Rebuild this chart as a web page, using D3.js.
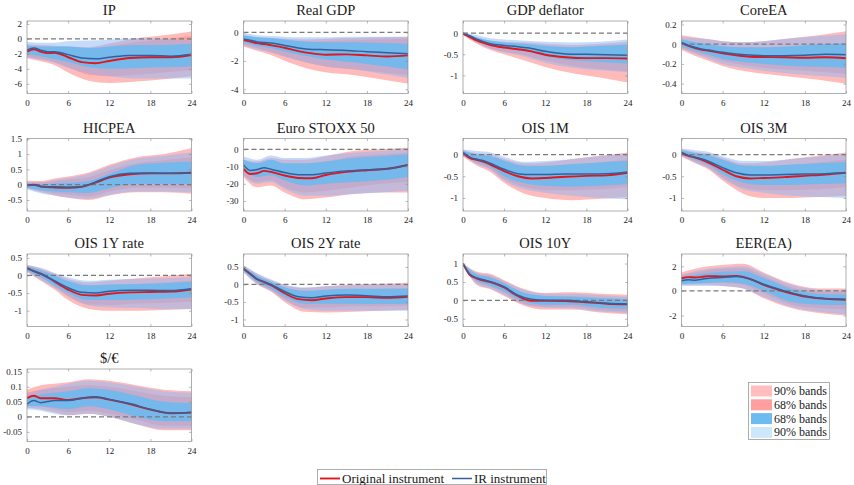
<!DOCTYPE html>
<html>
<head>
<meta charset="utf-8">
<script src="https://cdn.jsdelivr.net/npm/d3@7/dist/d3.min.js"></script>
<style>
  html, body { margin: 0; padding: 0; background: #fff; }
  svg { display: block; }
  text { font-family: "Liberation Serif", "Times New Roman", serif; fill: #1a1a1a; }
</style>
</head>
<body>
<svg id="chart" width="854" height="485"></svg>
<script>
// Impulse responses to a monetary policy shock, two instruments, 13 variables
const panelTitles = ["IP", "Real GDP", "GDP deflator", "CoreEA", "HICPEA", "Euro STOXX 50",
  "OIS 1M", "OIS 3M", "OIS 1Y rate", "OIS 2Y rate", "OIS 10Y", "EER(EA)", "$/€"];

const yDomains = [[-7.3, 2.4], [-4.3, 0.8], [-1.43, 0.29], [-0.5, 0.235], [-0.86, 1.51], [-35.8, 6.3],
  [-1.3, 0.37], [-1.3, 0.37], [-1.45, 0.61], [-1.2, 0.87], [-0.71, 1.26], [-2.9, 3.0], [-0.082, 0.159]];

const yTickValues = [[-6, -4, -2, 0, 2], [-4, -2, 0], [-1, -0.5, 0], [-0.4, -0.2, 0, 0.2],
  [-0.5, 0, 0.5, 1, 1.5], [-30, -20, -10, 0], [-1, -0.5, 0], [-1, -0.5, 0], [-1, -0.5, 0, 0.5],
  [-1, -0.5, 0, 0.5], [-0.5, 0, 0.5, 1], [-2, 0, 2], [-0.05, 0, 0.05, 0.1, 0.15]];

const xTickValues = [0, 6, 12, 18, 24];

// horizons (months) at which the responses and the bands are recorded
const lineHorizons = [0, 1, 2, 3, 4, 6, 8, 10, 12, 15, 18, 21, 24];
const bandHorizons = [0, 2, 4, 6, 9, 12, 16, 20, 24];

// point responses, original instrument
const originalIRF = [
  [-1.7, -1.4, -1.7, -1.9, -1.85, -2.45, -3.1, -3.25, -2.95, -2.55, -2.45, -2.45, -2.15],
  [-0.55, -0.65, -0.76, -0.82, -0.9, -1.08, -1.32, -1.48, -1.57, -1.55, -1.62, -1.7, -1.62],
  [-0.02, -0.09, -0.17, -0.23, -0.28, -0.34, -0.38, -0.43, -0.51, -0.57, -0.59, -0.59, -0.6],
  [0.01, -0.017, -0.04, -0.057, -0.067, -0.093, -0.113, -0.127, -0.13, -0.133, -0.137, -0.133, -0.143],
  [-0.02, 0, -0.06, -0.08, -0.09, -0.1, -0.07, 0.07, 0.23, 0.34, 0.37, 0.37, 0.39],
  [-11.3, -14.3, -13.9, -12.5, -13.1, -15.2, -16.6, -16.8, -14.9, -13.1, -12.1, -11.3, -9.1],
  [0.03, -0.08, -0.12, -0.16, -0.23, -0.38, -0.5, -0.55, -0.54, -0.51, -0.49, -0.48, -0.42],
  [0.04, -0.03, -0.07, -0.12, -0.19, -0.35, -0.5, -0.55, -0.54, -0.52, -0.49, -0.46, -0.42],
  [0.22, 0.12, 0.05, -0.05, -0.17, -0.4, -0.55, -0.57, -0.52, -0.48, -0.47, -0.46, -0.4],
  [0.45, 0.3, 0.15, 0.07, -0.02, -0.25, -0.42, -0.45, -0.4, -0.36, -0.36, -0.38, -0.35],
  [1.0, 0.69, 0.6, 0.54, 0.5, 0.35, 0.12, -0.01, -0.01, -0.02, -0.05, -0.09, -0.11],
  [1.03, 1.12, 1.09, 1.14, 1.2, 1.17, 1.22, 0.98, 0.49, -0.05, -0.46, -0.65, -0.73],
  [0.062, 0.07, 0.062, 0.062, 0.062, 0.056, 0.062, 0.065, 0.057, 0.042, 0.024, 0.012, 0.014]
];

// point responses, IR instrument
const irIRF = [
  [-1.5, -1.2, -1.5, -1.7, -1.7, -2.1, -2.55, -2.65, -2.45, -2.2, -2.2, -2.3, -2.05],
  [-0.46, -0.55, -0.67, -0.72, -0.74, -0.92, -1.1, -1.2, -1.22, -1.27, -1.36, -1.43, -1.5],
  [0, -0.06, -0.14, -0.2, -0.25, -0.29, -0.32, -0.36, -0.43, -0.49, -0.5, -0.51, -0.52],
  [0.017, -0.013, -0.033, -0.05, -0.06, -0.083, -0.1, -0.11, -0.117, -0.117, -0.113, -0.103, -0.107],
  [-0.03, 0, -0.06, -0.07, -0.07, -0.08, -0.06, 0.09, 0.26, 0.37, 0.38, 0.37, 0.39],
  [-9.1, -12.3, -11.7, -10.7, -11.5, -13.5, -14.7, -14.7, -13.7, -12.5, -11.9, -11.3, -9.1],
  [0.05, -0.06, -0.11, -0.14, -0.2, -0.34, -0.44, -0.46, -0.46, -0.45, -0.45, -0.44, -0.4],
  [0.05, -0.02, -0.06, -0.1, -0.16, -0.3, -0.42, -0.47, -0.47, -0.46, -0.45, -0.44, -0.42],
  [0.2, 0.12, 0.05, -0.05, -0.15, -0.35, -0.48, -0.5, -0.45, -0.42, -0.42, -0.43, -0.38],
  [0.45, 0.3, 0.15, 0.08, 0.0, -0.2, -0.35, -0.38, -0.33, -0.3, -0.32, -0.35, -0.33],
  [1.0, 0.71, 0.61, 0.56, 0.51, 0.37, 0.14, 0.03, 0.0, 0.0, -0.04, -0.08, -0.1],
  [0.82, 0.9, 0.87, 0.95, 1.03, 1.09, 1.17, 0.95, 0.54, 0.0, -0.41, -0.63, -0.68],
  [0.042, 0.054, 0.047, 0.051, 0.054, 0.054, 0.062, 0.067, 0.058, 0.044, 0.025, 0.012, 0.015]
];

// original instrument, 90% bands
const orig90Lo = [
  [-2.6, -3.0, -3.5, -4.5, -5.6, -5.9, -5.7, -5.4, -5.0],
  [-1.0, -1.3, -1.6, -2.0, -2.5, -2.8, -3.0, -3.3, -3.6],
  [-0.04, -0.25, -0.4, -0.5, -0.65, -0.8, -0.95, -1.05, -1.17],
  [-0.06, -0.12, -0.17, -0.22, -0.27, -0.3, -0.33, -0.36, -0.4],
  [-0.12, -0.25, -0.35, -0.43, -0.5, -0.35, -0.25, -0.25, -0.3],
  [-16, -22, -21, -25, -29, -28, -26, -25, -25],
  [-0.05, -0.25, -0.4, -0.65, -0.9, -1.0, -1.05, -1.02, -0.98],
  [-0.05, -0.2, -0.35, -0.6, -0.9, -1.0, -1.0, -0.98, -0.95],
  [0.1, -0.15, -0.4, -0.7, -0.95, -1.0, -1.0, -0.98, -0.95],
  [0.35, 0.0, -0.2, -0.5, -0.78, -0.8, -0.78, -0.75, -0.72],
  [1.0, 0.42, 0.3, 0.12, -0.15, -0.25, -0.25, -0.33, -0.38],
  [0.5, 0.5, 0.5, 0.4, 0.2, -0.6, -1.4, -1.8, -2.0],
  [0.03, 0.025, 0.015, 0.005, 0.01, 0.0, -0.025, -0.045, -0.045]
];
const orig90Hi = [
  [-0.7, -0.8, -0.9, -1.0, -1.1, -0.6, 0.1, 0.5, 1.0],
  [-0.2, -0.35, -0.4, -0.45, -0.5, -0.45, -0.4, -0.35, -0.3],
  [0.02, -0.1, -0.17, -0.2, -0.22, -0.25, -0.28, -0.25, -0.2],
  [0.09, 0.07, 0.05, 0.03, 0.02, 0.03, 0.06, 0.09, 0.13],
  [0.13, 0.12, 0.2, 0.27, 0.4, 0.65, 0.9, 1.0, 1.2],
  [-6, -7, -5, -6, -6, -4, -1, 0, 1],
  [0.1, 0.03, 0.0, -0.1, -0.2, -0.18, -0.1, -0.03, 0.05],
  [0.12, 0.06, 0.02, -0.08, -0.2, -0.18, -0.1, -0.03, 0.05],
  [0.3, 0.2, 0.05, -0.1, -0.2, -0.15, -0.08, -0.02, 0.05],
  [0.55, 0.3, 0.12, -0.02, -0.1, -0.05, 0.0, 0.02, 0.05],
  [1.0, 0.78, 0.72, 0.55, 0.3, 0.2, 0.22, 0.18, 0.15],
  [1.5, 1.8, 2.0, 2.1, 2.2, 1.5, 0.6, 0.2, 0.2],
  [0.09, 0.105, 0.11, 0.115, 0.125, 0.12, 0.105, 0.09, 0.085]
];

// original instrument, 68% bands
const orig68Lo = [
  [-2.3, -2.7, -3.1, -3.8, -4.8, -5.0, -4.8, -4.5, -4.2],
  [-0.85, -1.1, -1.4, -1.7, -2.1, -2.4, -2.6, -2.8, -3.0],
  [-0.03, -0.22, -0.36, -0.44, -0.52, -0.65, -0.78, -0.85, -0.9],
  [-0.04, -0.09, -0.13, -0.17, -0.21, -0.24, -0.26, -0.28, -0.3],
  [-0.1, -0.2, -0.28, -0.33, -0.38, -0.22, -0.1, -0.1, -0.12],
  [-15, -19, -18, -22, -25, -24, -22, -20, -19],
  [-0.02, -0.2, -0.33, -0.56, -0.75, -0.82, -0.82, -0.8, -0.75],
  [-0.02, -0.16, -0.3, -0.52, -0.76, -0.82, -0.82, -0.8, -0.75],
  [0.13, -0.06, -0.32, -0.58, -0.82, -0.84, -0.8, -0.78, -0.75],
  [0.4, 0.05, -0.15, -0.42, -0.66, -0.66, -0.62, -0.62, -0.6],
  [1.0, 0.5, 0.37, 0.2, -0.1, -0.17, -0.17, -0.26, -0.3],
  [0.7, 0.7, 0.7, 0.65, 0.5, -0.2, -1.1, -1.4, -1.5],
  [0.04, 0.035, 0.025, 0.015, 0.02, 0.01, -0.01, -0.03, -0.03]
];
const orig68Hi = [
  [-1.0, -1.1, -1.2, -1.4, -1.5, -1.0, -0.4, 0.0, 0.4],
  [-0.3, -0.45, -0.5, -0.55, -0.65, -0.6, -0.55, -0.5, -0.45],
  [-0.01, -0.12, -0.2, -0.25, -0.3, -0.35, -0.38, -0.38, -0.35],
  [0.04, 0.01, -0.01, -0.03, -0.05, -0.05, -0.04, -0.02, 0.0],
  [0.07, 0.07, 0.12, 0.16, 0.24, 0.47, 0.7, 0.8, 0.9],
  [-7, -9, -7.5, -9, -9.5, -7, -4, -3, -2],
  [0.08, 0.0, -0.04, -0.14, -0.27, -0.28, -0.24, -0.18, -0.12],
  [0.1, 0.03, -0.02, -0.12, -0.26, -0.28, -0.24, -0.18, -0.12],
  [0.27, 0.15, 0.0, -0.18, -0.3, -0.28, -0.24, -0.2, -0.14],
  [0.5, 0.25, 0.07, -0.1, -0.2, -0.17, -0.13, -0.12, -0.1],
  [1.0, 0.72, 0.65, 0.48, 0.2, 0.12, 0.12, 0.08, 0.05],
  [1.3, 1.5, 1.7, 1.8, 1.85, 1.2, 0.3, -0.05, -0.1],
  [0.08, 0.09, 0.095, 0.1, 0.105, 0.1, 0.085, 0.07, 0.065]
];

// IR instrument, 68% bands
const ir68Lo = [
  [-2.0, -2.3, -2.7, -3.1, -3.8, -4.0, -3.9, -3.8, -3.7],
  [-0.7, -0.95, -1.1, -1.35, -1.65, -1.9, -2.1, -2.35, -2.6],
  [-0.02, -0.18, -0.3, -0.36, -0.42, -0.55, -0.64, -0.68, -0.72],
  [-0.02, -0.07, -0.11, -0.15, -0.18, -0.2, -0.22, -0.23, -0.24],
  [-0.1, -0.18, -0.22, -0.25, -0.27, -0.12, 0.02, 0.02, 0.02],
  [-12, -16, -15, -18, -21, -20, -19, -18, -16],
  [0.0, -0.16, -0.28, -0.5, -0.66, -0.72, -0.74, -0.72, -0.68],
  [0.0, -0.12, -0.24, -0.45, -0.65, -0.7, -0.7, -0.68, -0.66],
  [0.14, -0.05, -0.28, -0.5, -0.7, -0.7, -0.68, -0.66, -0.62],
  [0.4, 0.07, -0.12, -0.35, -0.55, -0.55, -0.55, -0.56, -0.55],
  [1.0, 0.53, 0.4, 0.25, -0.04, -0.12, -0.12, -0.2, -0.23],
  [0.55, 0.6, 0.65, 0.7, 0.6, 0.0, -0.9, -1.1, -1.15],
  [0.035, 0.035, 0.03, 0.025, 0.035, 0.025, 0.0, -0.015, -0.015]
];
const ir68Hi = [
  [-0.9, -1.0, -1.0, -1.0, -1.2, -1.0, -0.8, -0.8, -0.6],
  [-0.2, -0.35, -0.4, -0.5, -0.65, -0.7, -0.7, -0.75, -0.8],
  [0.01, -0.1, -0.18, -0.22, -0.25, -0.3, -0.33, -0.3, -0.27],
  [0.05, 0.02, 0.0, -0.02, -0.03, -0.03, -0.02, 0.0, 0.01],
  [0.04, 0.02, 0.04, 0.06, 0.12, 0.35, 0.65, 0.72, 0.75],
  [-6, -8, -6, -8, -8, -7, -5, -4, -3],
  [0.08, 0.0, -0.04, -0.14, -0.26, -0.26, -0.22, -0.18, -0.15],
  [0.1, 0.03, -0.02, -0.12, -0.25, -0.26, -0.23, -0.2, -0.17],
  [0.26, 0.15, 0.0, -0.16, -0.28, -0.26, -0.24, -0.22, -0.18],
  [0.5, 0.25, 0.08, -0.08, -0.18, -0.15, -0.12, -0.12, -0.12],
  [1.0, 0.7, 0.62, 0.46, 0.2, 0.12, 0.1, 0.06, 0.03],
  [1.1, 1.3, 1.45, 1.55, 1.6, 1.05, 0.15, -0.25, -0.3],
  [0.06, 0.075, 0.08, 0.085, 0.095, 0.09, 0.07, 0.05, 0.045]
];

// IR instrument, 90% bands
const ir90Lo = [
  [-2.5, -2.8, -3.2, -3.9, -4.6, -5.0, -5.3, -5.3, -5.3],
  [-0.9, -1.2, -1.4, -1.7, -2.1, -2.4, -2.6, -2.9, -3.2],
  [-0.03, -0.22, -0.36, -0.45, -0.55, -0.7, -0.82, -0.88, -0.92],
  [-0.04, -0.1, -0.15, -0.2, -0.24, -0.27, -0.3, -0.32, -0.34],
  [-0.15, -0.28, -0.35, -0.42, -0.46, -0.33, -0.22, -0.22, -0.25],
  [-15, -20, -19, -23, -27, -27, -26, -25, -24],
  [-0.03, -0.22, -0.35, -0.6, -0.8, -0.88, -0.95, -1.0, -1.03],
  [-0.03, -0.18, -0.32, -0.55, -0.8, -0.88, -0.95, -0.98, -1.0],
  [0.1, -0.12, -0.35, -0.6, -0.85, -0.9, -0.92, -0.95, -0.95],
  [0.35, 0.02, -0.18, -0.45, -0.7, -0.75, -0.75, -0.75, -0.75],
  [1.0, 0.45, 0.32, 0.15, -0.12, -0.2, -0.22, -0.3, -0.34],
  [0.4, 0.4, 0.4, 0.4, 0.2, -0.5, -1.3, -1.7, -1.9],
  [0.025, 0.02, 0.01, 0.005, 0.01, 0.0, -0.025, -0.04, -0.04]
];
const ir90Hi = [
  [-0.4, -0.5, -0.5, -0.3, -0.2, -0.1, 0.1, 0.0, -0.2],
  [-0.05, -0.2, -0.25, -0.3, -0.35, -0.35, -0.3, -0.3, -0.3],
  [0.03, -0.05, -0.12, -0.15, -0.18, -0.2, -0.22, -0.2, -0.15],
  [0.07, 0.06, 0.05, 0.03, 0.02, 0.03, 0.06, 0.08, 0.1],
  [0.08, 0.08, 0.15, 0.22, 0.35, 0.6, 0.85, 0.95, 1.05],
  [-4, -6, -3.5, -5, -5, -3.5, -2, -1, 0],
  [0.12, 0.08, 0.05, -0.05, -0.17, -0.15, -0.1, -0.04, 0.02],
  [0.14, 0.1, 0.06, -0.04, -0.15, -0.15, -0.1, -0.05, 0.0],
  [0.3, 0.22, 0.08, -0.05, -0.15, -0.12, -0.1, -0.08, -0.05],
  [0.55, 0.32, 0.15, 0.0, -0.08, -0.05, -0.02, 0.0, 0.0],
  [1.0, 0.75, 0.68, 0.52, 0.28, 0.18, 0.18, 0.14, 0.1],
  [1.3, 1.6, 1.8, 1.9, 2.0, 1.4, 0.5, 0.1, 0.05],
  [0.075, 0.09, 0.1, 0.11, 0.12, 0.115, 0.1, 0.085, 0.08]
];

const bandLabels = ["90% bands", "68% bands", "68% bands", "90% bands"];
const lineLabels = ["Original instrument", "IR instrument"];

// ---- layout and styles ----
const colLeft = [27, 243.5, 463, 681.5];
const rowTop = [21, 138.5, 254, 369];
const plotW = 164.5, plotH = 72.5;

const style = {
  orig90: { fill: "#ffbaba", opacity: 1 },
  orig68: { fill: "#ff9e9e", opacity: 1 },
  ir90: { fill: "#8ab8f8", opacity: 0.5 },
  ir68: { fill: "#6cb9ef", opacity: 0.92 },
  origLine: "#e0171c",
  irLine: "#33609a"
};
const swatchColors = ["#ffbdbd", "#ff9f9f", "#6cbcf2", "#cde8fb"];

const svg = d3.select("#chart");
svg.append("rect").attr("width", 854).attr("height", 485).attr("fill", "#fff");

const fmt = v => String(+v.toFixed(3));

panelTitles.forEach((title, i) => {
  const col = i % 4, row = Math.floor(i / 4);
  const x0 = colLeft[col], y0 = rowTop[row];
  const x = d3.scaleLinear().domain([0, 24]).range([x0, x0 + plotW]);
  const y = d3.scaleLinear().domain(yDomains[i]).range([y0 + plotH, y0]);

  const g = svg.append("g");
  const clipId = "clip" + i;
  g.append("clipPath").attr("id", clipId)
    .append("rect").attr("x", x0).attr("y", y0).attr("width", plotW).attr("height", plotH);
  const plot = g.append("g").attr("clip-path", `url(#${clipId})`);

  const band = (lo, hi, st) => {
    const pts = bandHorizons.map((h, k) => ({ h, lo: lo[i][k], hi: hi[i][k] }));
    const area = d3.area().curve(d3.curveMonotoneX)
      .x(d => x(d.h)).y0(d => y(d.lo)).y1(d => y(d.hi));
    plot.append("path").attr("d", area(pts))
      .attr("fill", st.fill).attr("fill-opacity", st.opacity).attr("stroke", "none");
  };
  band(orig90Lo, orig90Hi, style.orig90);
  band(orig68Lo, orig68Hi, style.orig68);
  band(ir90Lo, ir90Hi, style.ir90);
  band(ir68Lo, ir68Hi, style.ir68);

  // zero reference
  plot.append("line")
    .attr("x1", x(0)).attr("x2", x(24)).attr("y1", y(0)).attr("y2", y(0))
    .attr("stroke", "#7a7a7a").attr("stroke-width", 1.2).attr("stroke-dasharray", "5,3");

  const line = d3.line().curve(d3.curveMonotoneX).x(d => x(d[0])).y(d => y(d[1]));
  plot.append("path").attr("d", line(lineHorizons.map((h, k) => [h, originalIRF[i][k]])))
    .attr("fill", "none").attr("stroke", style.origLine).attr("stroke-width", 1.9);
  plot.append("path").attr("d", line(lineHorizons.map((h, k) => [h, irIRF[i][k]])))
    .attr("fill", "none").attr("stroke", style.irLine).attr("stroke-width", 1.5);

  // axes box with inward ticks on all sides
  const axisColor = "#8c8c8c";
  const xAxisB = g.append("g").attr("transform", `translate(0,${y0 + plotH})`)
    .call(d3.axisBottom(x).tickValues(xTickValues).tickSizeInner(-2.5).tickSizeOuter(0).tickPadding(6).tickFormat(fmt));
  const xAxisT = g.append("g").attr("transform", `translate(0,${y0})`)
    .call(d3.axisTop(x).tickValues(xTickValues).tickSizeInner(-2.5).tickSizeOuter(0).tickFormat(""));
  const yAxisL = g.append("g").attr("transform", `translate(${x0},0)`)
    .call(d3.axisLeft(y).tickValues(yTickValues[i]).tickSizeInner(-2.5).tickSizeOuter(0).tickPadding(5).tickFormat(fmt));
  const yAxisR = g.append("g").attr("transform", `translate(${x0 + plotW},0)`)
    .call(d3.axisRight(y).tickValues(yTickValues[i]).tickSizeInner(-2.5).tickSizeOuter(0).tickFormat(""));
  [xAxisB, xAxisT, yAxisL, yAxisR].forEach(a => {
    a.select(".domain").remove();
    a.selectAll(".tick line").attr("stroke", axisColor).attr("stroke-width", 0.6);
    a.selectAll(".tick text").attr("font-family", "Liberation Serif, serif")
      .attr("font-size", 9).attr("fill", "#222");
  });
  g.append("rect").attr("x", x0).attr("y", y0).attr("width", plotW).attr("height", plotH)
    .attr("fill", "none").attr("stroke", axisColor).attr("stroke-width", 0.7);

  g.append("text").attr("x", x0 + plotW / 2).attr("y", y0 - 6)
    .attr("text-anchor", "middle").attr("font-size", 14.5).text(title);
});

// band legend
const lg = svg.append("g");
lg.append("rect").attr("x", 748.5).attr("y", 382.5).attr("width", 81).attr("height", 57)
  .attr("fill", "#fff").attr("stroke", "#9a9a9a").attr("stroke-width", 0.8);
bandLabels.forEach((lab, k) => {
  const cy = 391 + k * 13.8;
  lg.append("rect").attr("x", 751).attr("y", cy - 5.5).attr("width", 21).attr("height", 11)
    .attr("fill", swatchColors[k]);
  lg.append("text").attr("x", 774).attr("y", cy + 4).attr("font-size", 12).text(lab);
});

// line legend
const ll = svg.append("g");
ll.append("rect").attr("x", 317.5).attr("y", 469.5).attr("width", 229).attr("height", 15)
  .attr("fill", "#fff").attr("stroke", "#9a9a9a").attr("stroke-width", 0.8);
const lineColors = [style.origLine, style.irLine];
const lineX = [320, 452];
lineLabels.forEach((lab, k) => {
  ll.append("line").attr("x1", lineX[k]).attr("x2", lineX[k] + 20).attr("y1", 478.5).attr("y2", 478.5)
    .attr("stroke", lineColors[k]).attr("stroke-width", k === 0 ? 1.9 : 1.5);
  ll.append("text").attr("x", lineX[k] + 22).attr("y", 482.5).attr("font-size", 13).text(lab);
});
</script>
</body>
</html>
